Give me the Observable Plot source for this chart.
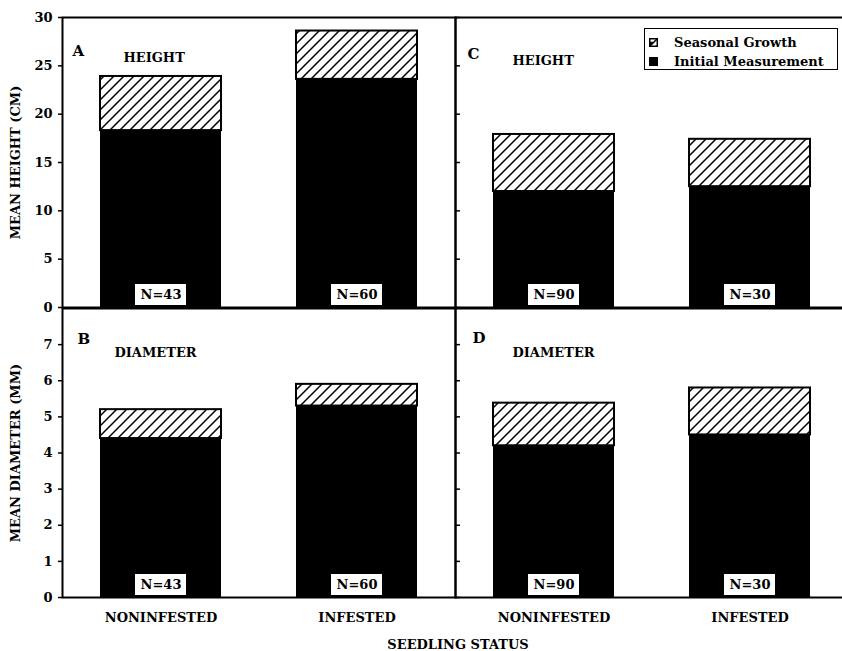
<!DOCTYPE html>
<html><head><meta charset="utf-8">
<script src="https://cdn.jsdelivr.net/npm/d3@7"></script>
<script src="https://cdn.jsdelivr.net/npm/@observablehq/plot@0.6"></script>
<style>
body{margin:0;background:#fff;overflow:hidden}
#fig{position:relative;width:842px;height:651px;overflow:hidden;background:#fff;font-family:"DejaVu Serif",serif;font-weight:bold;color:#000}
.panel{position:absolute;overflow:visible}
.panel svg{overflow:visible;display:block;max-width:none !important}
#xlabel{position:absolute;left:0;width:916px;top:637px;text-align:center;font-size:13px}
#legend{position:absolute;left:644px;top:28px;width:192px;height:40px;border:1.5px solid #000;background:#fff;font-size:13px}
#legend .row{position:absolute;left:4px;display:flex;align-items:center}
#legend .row span{margin-left:16px;white-space:nowrap}
</style></head><body><div id="fig"></div>
<script>
const statuses = ["NONINFESTED", "INFESTED"];
const sampleLeft = [43, 60];
const sampleRight = [90, 30];
// Panel A: height, left group
const heightInitialA = [18.3, 23.6];
const heightGrowthA = [5.6, 5.0];
// Panel C: height, right group
const heightInitialC = [12.0, 12.5];
const heightGrowthC = [5.9, 4.9];
// Panel B: diameter, left group
const diamInitialB = [4.4, 5.3];
const diamGrowthB = [0.8, 0.6];
// Panel D: diameter, right group
const diamInitialD = [4.2, 4.5];
const diamGrowthD = [1.18, 1.3];
const heightTicks = [0, 5, 10, 15, 20, 25, 30];
const diamTicks = [0, 1, 2, 3, 4, 5, 6, 7];
const legendLabels = ["Seasonal Growth", "Initial Measurement"];

const fig = document.getElementById("fig");

function panel(o) {
  const rows = statuses.map((s, i) => ({status: s, initial: o.initial[i], growth: o.growth[i], n: o.ns[i]}));
  const hatch = "url(#" + o.id + ")";
  const marks = [
    Plot.barY(rows, {x: "status", y1: 0, y2: "initial", fill: "black"}),
    Plot.barY(rows, {x: "status", y1: "initial", y2: d => d.initial + d.growth, fill: hatch, stroke: "black", strokeWidth: 2}),
    Plot.barY(rows, {x: "status", y1: 0, y2: 0, fill: "white", insetLeft: 35, insetRight: 35, insetTop: -23, insetBottom: 2}),
    Plot.text(rows, {x: "status", y: 0, text: d => "N=" + d.n, dy: -12.5, fontSize: 13}),
    Plot.text([o.letter], {text: d => d, frameAnchor: "top-left", dx: o.letterDx, dy: o.letterDy, textAnchor: "start", fontSize: 15}),
    Plot.text([o.title], {text: d => d, frameAnchor: "top-left", dx: o.titleDx, dy: o.titleDy, textAnchor: "start", fontSize: 13}),
    Plot.frame({stroke: "black", strokeWidth: 2}),
    o.showLabels
      ? Plot.axisY({ticks: o.ticks, tickSize: 4, tickPadding: 6, label: o.yLabel, labelAnchor: "center", labelOffset: 52, labelArrow: "none", fontSize: 13, strokeWidth: 1.5})
      : Plot.axisY({ticks: o.ticks, tickSize: -5, tickFormat: () => "", label: null, strokeWidth: 1.5}),
    o.showX ? Plot.axisX({tickSize: 0, tickPadding: 15, label: null, fontSize: 13}) : null
  ].filter(Boolean);
  const svg = Plot.plot({
    width: o.width, height: o.height,
    marginLeft: o.marginLeft, marginRight: 0, marginTop: o.marginTop, marginBottom: o.marginBottom,
    x: {type: "band", domain: statuses, paddingInner: 0.384, paddingOuter: 0.192, axis: o.showX ? undefined : null},
    y: {domain: o.domain},
    style: {fontFamily: "DejaVu Serif", fontWeight: "bold", fontSize: "13px", color: "black", background: "transparent", overflow: "visible", maxWidth: "none"},
    marks
  });
  svg.style.maxWidth = "none";
  svg.style.width = o.width + "px";
  svg.style.height = o.height + "px";
  const defs = document.createElementNS("http://www.w3.org/2000/svg", "defs");
  defs.innerHTML = `<pattern id="${o.id}" patternUnits="userSpaceOnUse" width="10" height="10"><rect width="10" height="10" fill="white"/><path d="M-1,1 l2,-2 M0,10 l10,-10 M9,11 l2,-2" stroke="black" stroke-width="1.5"/></pattern>`;
  svg.insertBefore(defs, svg.firstChild);
  const div = document.createElement("div");
  div.className = "panel";
  div.style.left = o.left + "px";
  div.style.top = o.top + "px";
  div.style.width = o.width + "px";
  div.style.height = o.height + "px";
  div.appendChild(svg);
  fig.appendChild(div);
}

const topRow = {top: 0, height: 308, marginTop: 17, marginBottom: 1, domain: [0, 30], ticks: heightTicks, yLabel: "MEAN HEIGHT (CM)", title: "HEIGHT", showX: false};
const botRow = {top: 306, height: 345, marginTop: 2, marginBottom: 54, domain: [0, 8], ticks: diamTicks, yLabel: "MEAN DIAMETER (MM)", title: "DIAMETER", showX: true};

panel({...topRow, id: "hA", left: 0, width: 455, marginLeft: 62, showLabels: true, initial: heightInitialA, growth: heightGrowthA, ns: sampleLeft, letter: "A", letterDx: 10, letterDy: 28, titleDx: 61, titleDy: 35});
panel({...topRow, id: "hC", left: 455, width: 393, marginLeft: 0, showLabels: false, initial: heightInitialC, growth: heightGrowthC, ns: sampleRight, letter: "C", letterDx: 12, letterDy: 31, titleDx: 57, titleDy: 38});
panel({...botRow, id: "hB", left: 0, width: 455, marginLeft: 62, showLabels: true, initial: diamInitialB, growth: diamGrowthB, ns: sampleLeft, letter: "B", letterDx: 15, letterDy: 25, titleDx: 52, titleDy: 39});
panel({...botRow, id: "hD", left: 455, width: 393, marginLeft: 0, showLabels: false, initial: diamInitialD, growth: diamGrowthD, ns: sampleRight, letter: "D", letterDx: 17, letterDy: 24, titleDx: 57, titleDy: 39});

const xl = document.createElement("div");
xl.id = "xlabel";
xl.textContent = "SEEDLING STATUS";
fig.appendChild(xl);

const lg = document.createElement("div");
lg.id = "legend";
lg.innerHTML = `
<div class="row" style="top:6px"><svg width="9" height="9"><rect x="0.75" y="0.75" width="7.5" height="7.5" fill="white" stroke="black" stroke-width="1.5"/><path d="M0.75,8.25 L8.25,0.75 M0.75,8.25 L0.75,4.5 L4.5,4.5 Z" stroke="black" stroke-width="1.5" fill="black"/></svg><span>${legendLabels[0]}</span></div>
<div class="row" style="top:25px"><svg width="9" height="9"><rect width="9" height="9" fill="black"/></svg><span>${legendLabels[1]}</span></div>`;
fig.appendChild(lg);
</script>
</body></html>
